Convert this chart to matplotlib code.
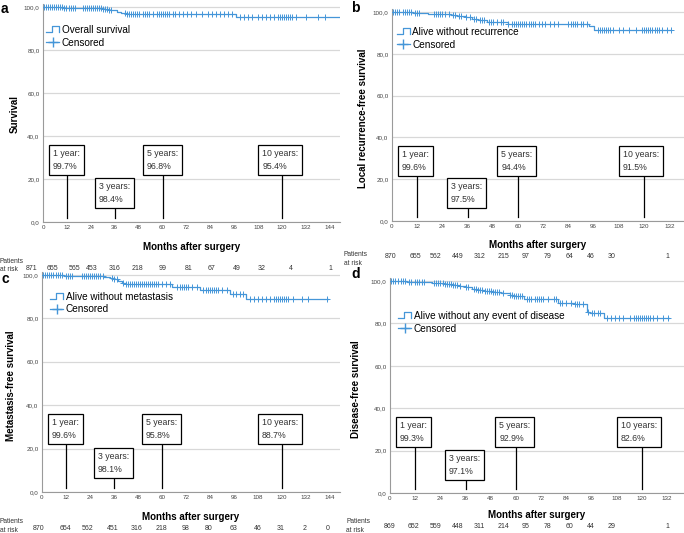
import numpy as np
import matplotlib.pyplot as plt
from matplotlib.lines import Line2D
from matplotlib.legend_handler import HandlerBase

plt.rcParams['font.family'] = ['Liberation Sans', 'DejaVu Sans']

# ---- data ----
# panel a: overall survival
a_times = [0, 5, 10, 26, 30, 33, 35, 37, 39, 42, 97]
a_surv = [100, 99.9, 99.7, 99.5, 99.2, 98.8, 98.4, 97.8, 97.3, 96.8, 95.4]
a_end = 149
a_cens = [0.5, 1.5, 2.5, 3.5, 4.5, 5.5, 6.5, 7.5, 8.5, 9.5, 10.5, 11.5, 13, 14, 15, 16,
          20, 21, 22, 23, 24, 25, 26, 27, 28, 29, 30, 31, 32, 33, 34,
          41, 42, 43, 44, 45, 46, 47, 48, 50, 51, 52, 53, 55,
          57, 58, 59, 60, 61, 62, 63, 65, 66, 68, 70,
          72, 74, 77, 80, 83, 85, 87, 89, 91, 93, 95,
          99, 101, 103, 105, 108, 110, 112, 114, 116, 118, 119, 120, 121, 122,
          123, 124, 125, 127, 132, 138, 141.5]
a_risk = [871, 655, 565, 453, 316, 218, 99, 81, 67, 49, 32, 4, 1]
a_marks = ['1 year:\n99.7%', '3 years:\n98.4%', '5 years:\n96.8%', '10 years:\n95.4%']

# panel b: local recurrence-free survival
b_times = [0, 4, 10, 17, 24, 28, 31, 35, 38, 41, 45, 50, 55, 94, 96]
b_surv = [100, 99.8, 99.6, 99.2, 98.9, 98.5, 98.0, 97.5, 96.6, 96.0, 95.4, 95.0, 94.4, 93.3, 91.5]
b_end = 133
b_cens = [0.5, 1.5, 2.5, 3.5, 5, 6, 7, 8, 9, 11, 12, 13,
          20, 21, 22, 23, 24, 25, 27, 29, 30, 32, 33, 35,
          37, 39, 40, 42, 43, 44, 46, 47, 48, 50, 52, 53, 55,
          57, 58, 59, 60, 61, 62, 63, 64, 65, 66, 67, 68, 70, 71.5,
          73, 75, 77, 79, 84, 85, 86, 87, 88, 90, 91, 93,
          98, 99, 100, 101, 102, 103, 104, 105, 108, 110, 113, 116, 119, 120,
          121, 122, 123, 124, 125, 126, 127, 128.7, 131, 132.7]
b_risk = [870, 655, 562, 449, 312, 215, 97, 79, 64, 46, 30, 1]
b_marks = ['1 year:\n99.6%', '3 years:\n97.5%', '5 years:\n94.4%', '10 years:\n91.5%']

# panel c: metastasis-free survival
c_times = [0, 6, 11, 27, 31, 34, 36, 38, 40, 42, 65, 79, 94, 102]
c_surv = [100, 99.8, 99.6, 99.3, 98.9, 98.4, 98.1, 97.2, 96.5, 95.8, 94.6, 93.1, 91.0, 88.7]
c_end = 143
c_cens = [0.5, 1.5, 2.5, 3.5, 4.5, 5.5, 7, 8, 9, 10, 12, 13, 14, 15,
          20, 21, 22, 23, 24, 25, 26, 27, 28, 29, 30.5, 35, 36, 37.5,
          40.5, 42, 43, 44, 45, 46, 47, 48, 49, 50, 51, 52, 53, 54, 55, 56, 57, 58, 60, 62, 64,
          67.5, 69, 70, 71, 72, 73, 75, 77.5, 80.5, 82, 83, 84, 85, 86, 87, 88, 90, 92.5,
          95.5, 97, 99, 100.5, 104, 106, 108, 110, 112, 114, 116, 117, 118, 119, 120,
          121, 122, 123, 125.5, 130, 133, 142.5]
c_risk = [870, 654, 562, 451, 316, 218, 98, 80, 63, 46, 31, 2, 0]
c_marks = ['1 year:\n99.6%', '3 years:\n98.1%', '5 years:\n95.8%', '10 years:\n88.7%']

# panel d: disease-free survival
d_times = [0, 3, 8, 11, 20, 26, 30, 33, 36, 39, 42, 45, 49, 53, 57, 59, 64, 80, 88, 94, 95, 102]
d_surv = [100, 99.8, 99.5, 99.3, 99.1, 98.7, 98.3, 97.7, 97.1, 96.4, 95.9, 95.3, 94.8, 94.2,
          93.4, 92.9, 91.3, 89.8, 89.0, 85.5, 84.8, 82.6]
d_end = 133
d_cens = [0.5, 1.5, 2.5, 4, 5, 6, 7, 9, 10, 12, 13, 14, 15, 16,
          21, 22, 23, 24, 25, 26, 27, 28, 29, 30, 31, 32, 33.5, 36, 37,
          40, 41, 42, 43, 44, 45, 46, 47, 48, 49, 50, 51, 52, 54,
          57, 58, 59, 60, 61, 62, 63, 65, 66, 67, 69, 70, 71, 72, 73, 75,
          78, 79, 81, 82, 84, 86, 88, 89, 90, 92, 94.5, 96, 97, 99, 100,
          103.5, 105, 107, 109, 111, 114.5, 116, 117, 118, 119, 120, 121, 122,
          123, 124, 125, 127, 130, 132.5]
d_risk = [869, 652, 559, 448, 311, 214, 95, 78, 60, 44, 29, 1]
d_marks = ['1 year:\n99.3%', '3 years:\n97.1%', '5 years:\n92.9%', '10 years:\n82.6%']

milestones = [12, 36, 60, 120]

# ---- drawing ----
W, H = 684, 533
BLUE = '#4596d8'
fig = plt.figure(figsize=(W / 100, H / 100), dpi=100)


class StepHandler(HandlerBase):
    def create_artists(self, legend, orig_handle, xd, yd, w, h, fontsize, trans):
        x0, y0 = -xd, -yd
        xs = [x0, x0 + 0.45 * w, x0 + 0.45 * w, x0 + w, x0 + w]
        ys = [y0 + 0.1 * h, y0 + 0.1 * h, y0 + 0.95 * h, y0 + 0.95 * h, y0 + 0.1 * h]
        return [Line2D(xs, ys, color=BLUE, lw=0.9, transform=trans)]


def fx(x):
    return x / W


def fy(y):
    return 1 - y / H


def panel(times, surv, end, cens, risk, marks, letter, ylabel, legend_label, lay):
    l, r, t, b = lay['rect']
    ax = fig.add_axes([fx(l), fy(b), fx(r - l), (b - t) / H])
    ax.set_xlim(0, lay['xmax'])
    ax.set_ylim(0, 101.5)
    ax.set_yticks([0, 20, 40, 60, 80, 100])
    ax.set_yticklabels(['0,0', '20,0', '40,0', '60,0', '80,0', '100,0'])
    ax.set_xticks(np.arange(0, lay['tickmax'] + 1, 12))
    ax.tick_params(length=0, labelsize=4.5, colors='#444444', pad=2.5)
    ax.grid(axis='y', color='#d8d8d8', lw=0.9)
    ax.set_axisbelow(True)
    for s in ['top', 'right']:
        ax.spines[s].set_visible(False)
    for s in ['left', 'bottom']:
        ax.spines[s].set_color('#9a9a9a')
        ax.spines[s].set_linewidth(0.8)

    tt = list(times) + [end]
    ss = list(surv) + [surv[-1]]
    ax.step(tt, ss, where='post', color=BLUE, lw=0.9, zorder=3)
    cy = np.array(surv)[np.searchsorted(times, cens, side='right') - 1]
    ax.plot(cens, cy, ls='none', marker='+', ms=4.5, mew=0.7, color=BLUE, zorder=3)

    # milestone boxes
    box_x = [lay['box1x'], 28, 52, 110]
    box_y = [34.0, 18.5, 34.0, 34.0]
    for m, txt, bx, by in zip(milestones, marks, box_x, box_y):
        ax.plot([m, m], [2, by - 5], color='black', lw=0.9, zorder=4)
        ax.text(bx, by, txt, ha='left', va='top', fontsize=6.3, color='#333333',
                linespacing=1.55, zorder=5,
                bbox=dict(boxstyle='square,pad=0.45', fc='white', ec='black', lw=0.9))

    handles = [Line2D([], [], color=BLUE), Line2D([], [], color=BLUE, marker='+', ms=7, lw=0.9)]
    lx, ly = lay['legend']
    ax.legend(handles, [legend_label, 'Censored'], loc='upper left',
              bbox_to_anchor=(fx(lx), fy(ly - 6)), bbox_transform=fig.transFigure,
              frameon=False, fontsize=7.2, borderpad=0, borderaxespad=0,
              handlelength=1.3, handletextpad=0.25, labelspacing=0.25,
              handler_map={handles[0]: StepHandler()})

    fig.text(fx(lay['letter'][0]), fy(lay['letter'][1]), letter, fontsize=10,
             fontweight='bold', ha='left', va='center')
    fig.text(fx(lay['ylab'][0]), fy(lay['ylab'][1]), ylabel, rotation=90, fontsize=7,
             fontweight='bold', ha='center', va='center')
    fig.text(fx((l + r) / 2), fy(lay['month_y']), 'Months after surgery', fontsize=7,
             fontweight='bold', ha='center', va='center')
    fig.text(fx(lay['risk_lab'][0]), fy(lay['risk_lab'][1]), 'Patients\nat risk',
             fontsize=4.8, color='#333333', ha='left', va='center', linespacing=1.3)
    for xp, n in zip(lay['risk_x'], risk):
        fig.text(fx(xp), fy(lay['risk_y']), str(n), fontsize=5, color='#333333',
                 ha='center', va='center')
    return ax


lay_a = dict(rect=(43, 340, 3.8, 222), xmax=149, tickmax=144, box1x=5,
             legend=(46, 31), letter=(1, 9), ylab=(15, 114), month_y=247,
             risk_lab=(0, 265.5), risk_y=268,
             risk_x=[32, 52, 75, 92, 115, 137, 163, 189, 212, 237, 262, 291, 330])
lay_b = dict(rect=(392, 684, 8.9, 221), xmax=139, tickmax=132, box1x=4.8,
             legend=(397, 33), letter=(351, 8), ylab=(363, 118), month_y=245,
             risk_lab=(344, 259), risk_y=257,
             risk_x=[391, 415, 436, 458, 480, 503, 526, 548, 569, 591, 612, 667])
lay_c = dict(rect=(42, 340, 271.7, 492), xmax=149, tickmax=144, box1x=5,
             legend=(50, 298), letter=(1, 279), ylab=(11, 386), month_y=517,
             risk_lab=(0, 526), risk_y=528,
             risk_x=[39, 65, 88, 113, 137, 161, 186, 209, 234, 258, 281, 305, 328])
lay_d = dict(rect=(390, 684, 277.8, 493), xmax=140, tickmax=132, box1x=4.8,
             legend=(398, 317), letter=(351, 274), ylab=(356, 389), month_y=515,
             risk_lab=(346, 526), risk_y=527,
             risk_x=[390, 414, 436, 458, 479, 503, 526, 548, 569, 591, 612, 667])

panel(a_times, a_surv, a_end, a_cens, a_risk, a_marks, 'a', 'Survival', 'Overall survival', lay_a)
panel(b_times, b_surv, b_end, b_cens, b_risk, b_marks, 'b', 'Local recurrence-free survival',
      'Alive without recurrence', lay_b)
panel(c_times, c_surv, c_end, c_cens, c_risk, c_marks, 'c', 'Metastasis-free survival',
      'Alive without metastasis', lay_c)
panel(d_times, d_surv, d_end, d_cens, d_risk, d_marks, 'd', 'Disease-free survival',
      'Alive without any event of disease', lay_d)

fig.savefig('out.png', dpi=100)
